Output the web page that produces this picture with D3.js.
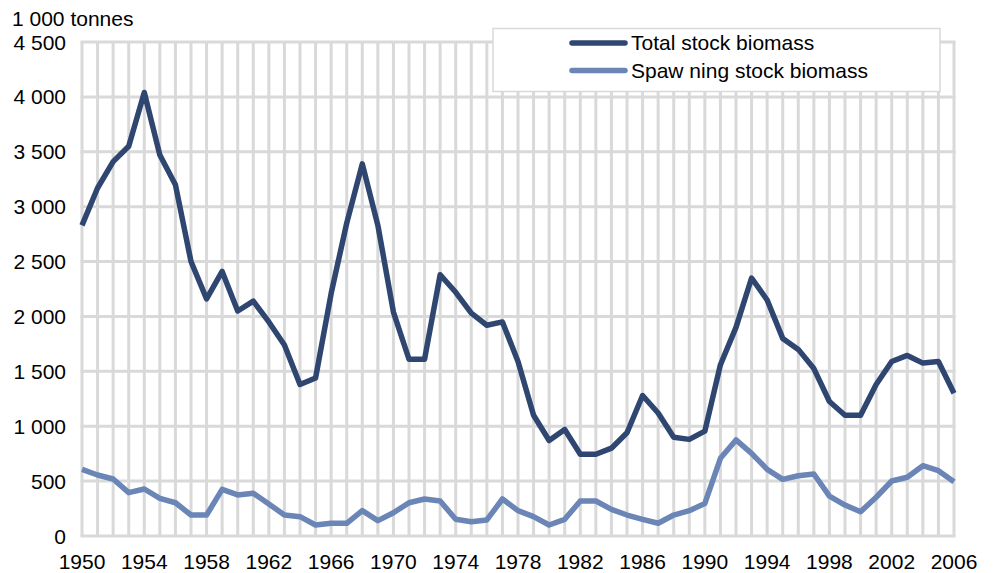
<!DOCTYPE html>
<html>
<head>
<meta charset="utf-8">
<script src="https://cdn.jsdelivr.net/npm/d3@7"></script>
<style>
  body { margin: 0; background: #fff; }
  text { font-family: "Liberation Sans", Arial, sans-serif; fill: #000; }
</style>
</head>
<body>
<script>
var width = 993;
var height = 573;

var years = d3.range(1950, 2007);
var totalBiomass = [2830, 3170, 3410, 3550, 4040, 3470, 3200, 2500, 2160, 2410,
                    2050, 2140, 1950, 1740, 1380, 1440, 2210, 2850, 3390, 2830,
                    2040, 1610, 1610, 2380, 2220, 2030, 1920, 1950, 1590, 1100,
                    870, 970, 745, 745, 800, 940, 1280, 1120, 900, 880,
                    955, 1560, 1900, 2350, 2150, 1800, 1700, 1525, 1225, 1100,
                    1100, 1380, 1590, 1645, 1575, 1590, 1300];
var spawningBiomass = [607, 556, 519, 395, 428, 343, 303, 191, 191, 425,
                       374, 389, 292, 191, 176, 100, 116, 116, 231, 140,
                       212, 303, 337, 319, 152, 130, 146, 337, 231, 176,
                       100, 152, 319, 319, 243, 191, 152, 116, 191, 231,
                       297, 708, 875, 753, 607, 516, 549, 565, 364, 282,
                       221, 353, 501, 535, 640, 595, 495];
var yTicks = [0, 500, 1000, 1500, 2000, 2500, 3000, 3500, 4000, 4500];
var xTickYears = d3.range(1950, 2007, 4);
var seriesNames = ["Total stock biomass", "Spaw ning stock biomass"];
var seriesColors = ["#2f4670", "#6a85b6"];

var x = d3.scaleLinear().domain([1950, 2006]).range([82, 954]);
var y = d3.scaleLinear().domain([0, 4500]).range([536, 42]);

var fmt = d3.formatLocale({ decimal: ".", thousands: " ", grouping: [3], currency: ["", ""] }).format(",d");

var svg = d3.select("body")
            .append("svg")
            .attr("width", width)
            .attr("height", height);

// grid
svg.append("g")
   .selectAll("line")
   .data(years)
   .enter()
   .append("line")
   .attr("x1", function(d) { return x(d); })
   .attr("x2", function(d) { return x(d); })
   .attr("y1", y(4500))
   .attr("y2", y(0))
   .attr("stroke", "#d9d9d9")
   .attr("stroke-width", 3);

svg.append("g")
   .selectAll("line")
   .data(yTicks)
   .enter()
   .append("line")
   .attr("x1", x(1950) - 1.5)
   .attr("x2", x(2006) + 1.5)
   .attr("y1", function(d) { return y(d); })
   .attr("y2", function(d) { return y(d); })
   .attr("stroke", "#d9d9d9")
   .attr("stroke-width", 3);

// y labels
svg.append("g")
   .selectAll("text")
   .data(yTicks)
   .enter()
   .append("text")
   .attr("x", 66)
   .attr("y", function(d) { return y(d); })
   .attr("dy", "0.36em")
   .attr("text-anchor", "end")
   .attr("font-size", "21px")
   .text(function(d) { return fmt(d); });

// x labels
svg.append("g")
   .selectAll("text")
   .data(xTickYears)
   .enter()
   .append("text")
   .attr("x", function(d) { return x(d); })
   .attr("y", 569)
   .attr("text-anchor", "middle")
   .attr("font-size", "21px")
   .text(function(d) { return d; });

svg.append("text")
   .attr("x", 12)
   .attr("y", 26)
   .attr("font-size", "21px")
   .text("1 000 tonnes");

// lines
var line = d3.line()
             .x(function(d, i) { return x(years[i]); })
             .y(function(d) { return y(d); });

[totalBiomass, spawningBiomass].forEach(function(s, i) {
  svg.append("path")
     .datum(s)
     .attr("d", line)
     .attr("fill", "none")
     .attr("stroke", seriesColors[i])
     .attr("stroke-width", 5.5)
     .attr("stroke-linejoin", "round");
});

// legend
var legend = svg.append("g");
legend.append("rect")
      .attr("x", 493)
      .attr("y", 28.5)
      .attr("width", 447)
      .attr("height", 63)
      .attr("fill", "#fff")
      .attr("stroke", "#d9d9d9")
      .attr("stroke-width", 1.5);

seriesNames.forEach(function(name, i) {
  var ly = 43 + i * 27.5;
  legend.append("line")
        .attr("x1", 572)
        .attr("x2", 625)
        .attr("y1", ly)
        .attr("y2", ly)
        .attr("stroke", seriesColors[i])
        .attr("stroke-width", 5.5)
        .attr("stroke-linecap", "round");
  legend.append("text")
        .attr("x", 631)
        .attr("y", ly + 7)
        .attr("font-size", "21px")
        .text(name);
});
</script>
</body>
</html>
